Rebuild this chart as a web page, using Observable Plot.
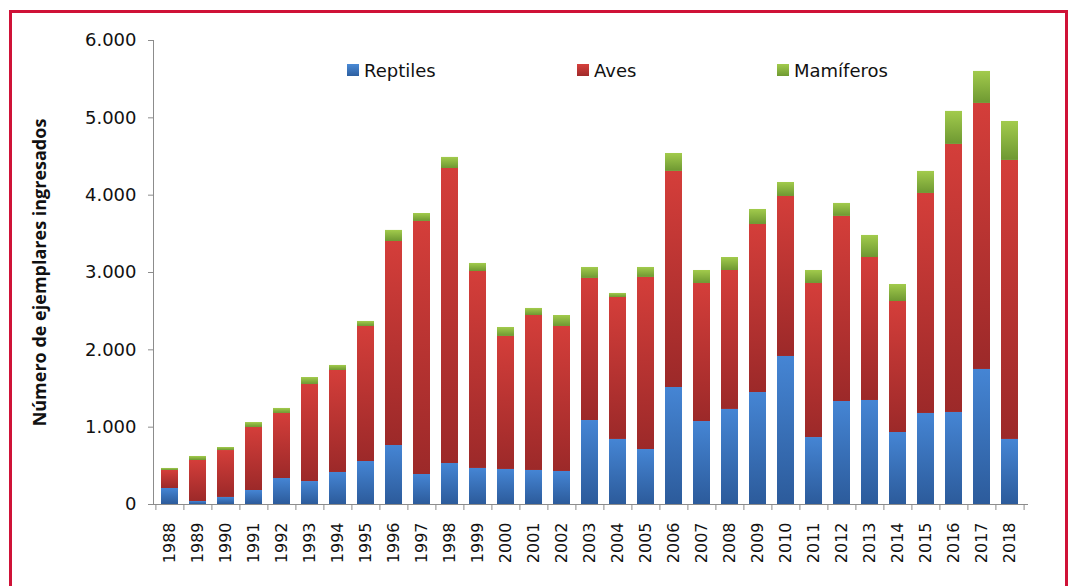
<!DOCTYPE html>
<html>
<head>
<meta charset="utf-8">
<script src="https://cdn.jsdelivr.net/npm/d3@7"></script>
<script src="https://cdn.jsdelivr.net/npm/@observablehq/plot@0.6"></script>
<style>
  html, body { margin: 0; padding: 0; background: #fff; }
  #wrap { position: relative; width: 1069px; height: 586px; overflow: hidden; font-family: "DejaVu Sans", sans-serif; }
  #frame { position: absolute; left: 9px; top: 10px; width: 1059px; height: 600px; border: 3px solid #cf1237; box-sizing: border-box; }
  #chart { position: absolute; left: 0; top: 0; }
  .leg { position: absolute; top: 59px; height: 22px; font-size: 18px; color: #111; display: flex; align-items: center; }
  .leg i { display: inline-block; width: 12px; height: 12px; margin-right: 5px; }
</style>
</head>
<body>
<div id="wrap">
  <div id="frame"></div>
  <div id="chart"></div>
  <div class="leg" style="left:347px"><i style="background:linear-gradient(#4a8ad6,#2d5fa0)"></i>Reptiles</div>
  <div class="leg" style="left:577px"><i style="background:linear-gradient(#d6403c,#a02a2a)"></i>Aves</div>
  <div class="leg" style="left:777px"><i style="background:linear-gradient(#a2cb4c,#6f9a32)"></i>Mamíferos</div>
</div>
<script>
const years = ["1988","1989","1990","1991","1992","1993","1994","1995","1996","1997","1998","1999","2000","2001","2002","2003","2004","2005","2006","2007","2008","2009","2010","2011","2012","2013","2014","2015","2016","2017","2018"];
const reptiles = [207,39,91,181,336,297,414,556,763,388,530,466,453,440,427,1086,841,711,1513,1073,1229,1448,1914,866,1332,1345,931,1177,1190,1746,841];
const aves = [233,530,607,815,841,1255,1319,1746,2638,3272,3815,2547,1720,2004,1875,1837,1836,2225,2794,1785,1797,2173,2069,1992,2393,1849,1694,2845,3466,3440,3608];
const mamiferos = [26,52,39,64,65,90,65,65,143,103,143,104,116,91,142,142,52,129,232,168,168,194,181,168,168,285,220,285,427,414,504];
const seriesNames = ["Reptiles","Aves","Mamíferos"];
const yTicks = [0,1000,2000,3000,4000,5000,6000];
const yTitle = "Número de ejemplares ingresados";

const seriesValues = [reptiles, aves, mamiferos];
const data = [];
seriesNames.forEach((s, si) => years.forEach((y, i) => data.push({year: y, series: s, value: seriesValues[si][i]})));

const W = 1069, H = 586, mL = 153, mR = 42, mT = 40, mB = 82;
const step = (W - mL - mR) / years.length;
const plotH = H - mT - mB;
const fmt = d3.formatLocale({decimal: ",", thousands: ".", grouping: [3], currency: ["", ""]}).format(",");

const chart = Plot.plot({
  width: W, height: H,
  marginLeft: mL, marginRight: mR, marginTop: mT, marginBottom: mB,
  style: {fontFamily: "DejaVu Sans, sans-serif", color: "#111", background: "transparent"},
  x: {domain: years, paddingInner: 0.38, paddingOuter: 0.19, label: null},
  y: {domain: [0, 6000], label: null},
  color: {domain: seriesNames, range: ["url(#gRep)", "url(#gAve)", "url(#gMam)"]},
  marks: [
    Plot.barY(data, {x: "year", y: "value", fill: "series", order: seriesNames}),
    Plot.frame({anchor: "left", stroke: "#8c8c8c"}),
    Plot.frame({anchor: "bottom", stroke: "#8c8c8c"}),
    Plot.ruleX(years, {x: d => d, dx: -step / 2, insetTop: plotH, insetBottom: -6, stroke: "#8c8c8c"}),
    Plot.ruleX(years.slice(-1), {x: d => d, dx: step / 2, insetTop: plotH, insetBottom: -6, stroke: "#8c8c8c"}),
    Plot.axisY(yTicks, {tickSize: 5, tickPadding: 12, fontSize: 18, tickFormat: fmt, stroke: "#8c8c8c", label: null, style: {letterSpacing: "1.5px"}}),
    Plot.axisX({tickSize: 0, tickRotate: -90, tickPadding: 18, fontSize: 16, label: null}),
    Plot.text([yTitle], {frameAnchor: "left", textAnchor: "middle", rotate: -90, dx: -113, fontWeight: "bold", fontSize: 18, fill: "#111", fontFamily: "Open Sans, sans-serif"})
  ]
});

const ns = "http://www.w3.org/2000/svg";
const defs = document.createElementNS(ns, "defs");
const grads = [["gRep", "#4585d4", "#2c5b9b"], ["gAve", "#d43e3a", "#9c2929"], ["gMam", "#a2cb4c", "#6e9832"]];
for (const [id, c1, c2] of grads) {
  const g = document.createElementNS(ns, "linearGradient");
  g.setAttribute("id", id);
  g.setAttribute("x1", "0"); g.setAttribute("y1", "0"); g.setAttribute("x2", "0"); g.setAttribute("y2", "1");
  const s1 = document.createElementNS(ns, "stop"); s1.setAttribute("offset", "0"); s1.setAttribute("stop-color", c1);
  const s2 = document.createElementNS(ns, "stop"); s2.setAttribute("offset", "1"); s2.setAttribute("stop-color", c2);
  g.appendChild(s1); g.appendChild(s2); defs.appendChild(g);
}
chart.insertBefore(defs, chart.firstChild);
document.getElementById("chart").appendChild(chart);
</script>
</body>
</html>
